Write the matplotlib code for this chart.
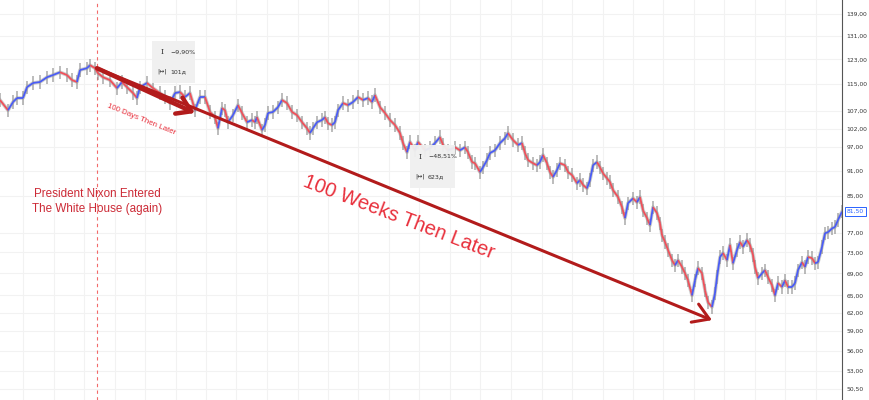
import numpy as np
import matplotlib
matplotlib.use("Agg")
import matplotlib.pyplot as plt
from matplotlib.collections import LineCollection
from matplotlib.patches import Rectangle
import matplotlib.transforms as mtransforms

# days counted from the inauguration (day 0) and the traced price
days = [-97, -89, -84, -80, -74, -70, -64, -57, -50, -44, -37, -30, -25, -20, -17, -10, -7, -2,
        1, 6, 13, 20, 25, 30, 36, 40, 43, 50, 56, 63, 68, 73, 78, 83, 88, 93, 98, 103,
        108, 113, 118, 121, 125, 128, 131, 136, 141, 145, 150, 155, 158, 160, 165, 168, 171,
        176, 181, 185, 190, 195, 200, 205, 210, 213, 216, 220, 225, 228, 231, 235, 238, 241,
        246, 251, 256, 261, 266, 271, 275, 278, 283, 288, 293, 298, 303, 306, 310, 313, 318,
        321, 328, 333, 338, 343, 346, 351, 358, 363, 368, 371, 375, 378, 383, 386, 390, 393,
        398, 403, 408, 411, 416, 421, 425, 428, 431, 436, 440, 443, 446, 450, 453, 456, 460,
        463, 468, 471, 475, 480, 483, 486, 490, 493, 496, 500, 503, 506, 510, 513, 516, 521,
        525, 528, 531, 536, 540, 543, 546, 550, 553, 556, 560, 563, 565, 568, 571, 575, 578,
        581, 585, 588, 591, 595, 598, 601, 605, 608, 611, 615, 618, 620, 623, 626, 630, 633,
        636, 640, 643, 646, 650, 653, 656, 658, 661, 665, 668, 671, 675, 678, 681, 685, 688,
        691, 695, 698, 701, 705, 708, 711, 715, 718, 721, 725, 728, 731, 735, 738, 741, 745]
price = [110.2, 107.2, 109.6, 110.8, 110.8, 114.1, 115.4, 115.7, 117.2, 117.9, 118.8, 117.9, 116.3,
         115.7, 119.5, 120.1, 121.1, 120.1, 118.5, 117.2, 116.3, 113.8, 115.7, 114.1, 112.3, 110.8,
         114.1, 115.4, 113.8, 112.3, 111.1, 109.3, 112.3, 112.6, 111.1, 112.3, 107.2, 111.1, 111.1,
         106.7, 105.2, 102.1, 107.8, 107.2, 103.8, 105.8, 108.7, 106.4, 103.8, 104.4, 103.8, 105.2,
         101.6, 103.0, 106.4, 106.7, 108.1, 110.2, 109.3, 106.7, 105.8, 103.8, 102.1, 100.8, 102.1,
         103.8, 104.4, 105.2, 103.5, 103.0, 103.8, 107.2, 109.3, 108.7, 109.6, 111.1, 110.2, 110.8,
         109.6, 111.7, 108.1, 106.4, 104.4, 103.0, 100.8, 98.1, 95.7, 98.4, 96.2, 98.4, 96.2, 96.8,
         98.1, 99.7, 97.6, 96.2, 97.0, 96.2, 97.0, 95.7, 93.2, 92.9, 90.7, 91.9, 93.7, 95.5, 96.2,
         98.1, 99.4, 100.8, 98.9, 97.6, 98.1, 95.5, 93.7, 92.9, 92.4, 93.2, 95.0, 92.9, 90.7, 89.5,
         91.2, 92.9, 92.4, 90.7, 90.0, 88.0, 88.8, 87.6, 86.8, 88.8, 92.4, 93.2, 91.9, 90.4, 89.2,
         88.3, 86.4, 84.8, 82.5, 80.1, 83.4, 84.5, 83.6, 84.8, 81.8, 80.1, 78.6, 82.5, 81.2, 79.0,
         76.5, 75.1, 73.5, 71.5, 70.5, 71.5, 70.2, 69.0, 67.7, 65.0, 67.7, 70.0, 69.0, 65.9, 63.8,
         63.0, 65.4, 68.3, 72.1, 72.9, 71.5, 74.5, 70.9, 73.5, 75.1, 74.1, 75.5, 74.5, 72.5, 70.2,
         68.1, 69.0, 69.6, 68.3, 66.8, 65.0, 67.2, 66.5, 67.7, 66.5, 66.5, 67.2, 69.6, 71.1, 70.2,
         72.1, 71.9, 70.9, 71.1, 74.1, 76.9, 77.1, 77.9, 78.2, 79.7, 81.5]

ytick_vals = [139, 131, 123, 115, 107, 102, 97, 91, 85, 77, 73, 69, 65, 62, 59, 56, 53, 50.5]
last_price = 81.50

start_day, start_price = 0, 120.1
days_end, days_price = 98, 106.4      # 100 days later, -9.90%
weeks_end, weeks_price = 615, 60.8    # 623 days later, -48.51%

up_col = "#4a5cf5"
down_col = "#f0505a"
arrow_col = "#b21b1b"
text_red = "#e8303c"

fig = plt.figure(figsize=(8.7, 4), dpi=100)
ax = fig.add_axes([0, 0, 842 / 870, 1])
ax.set_yscale("log")
ax.set_xlim(-97, 745)
ax.set_ylim(49.0, 144.4)

# grid
ax.set_yticks(ytick_vals)
ax.set_yticks([], minor=True)
ax.set_yticklabels([("%.2f" % v).replace(".", ",") for v in ytick_vals])
ax.set_xticks(np.arange(-74, 745, 30.5))
ax.tick_params(axis="x", length=0, labelbottom=False)
ax.tick_params(axis="y", which="both", length=0, labelsize=4.3, labelcolor="#333333",
               left=False, right=False, labelleft=False, labelright=True, pad=3)
ax.grid(True, color="#f2f2f2", lw=0.8)
ax.set_axisbelow(True)
for s in ["top", "left", "bottom"]:
    ax.spines[s].set_visible(False)
ax.spines["right"].set_color("#555555")
ax.spines["right"].set_linewidth(0.8)

# price path: gray wick band, then up/down coloured bodies
p = np.array(price)
ax.vlines(days, p * 0.982, p * 1.018, color="#8f8f8f", lw=1.2, alpha=0.7, zorder=2)
ax.plot(days, price, color="#9a9a9a", lw=2.6, alpha=0.5, zorder=2)
pts = np.column_stack([days, price])
segs = np.stack([pts[:-1], pts[1:]], axis=1)
cols = [up_col if price[i + 1] >= price[i] else down_col for i in range(len(price) - 1)]
ax.add_collection(LineCollection(segs, colors=cols, linewidths=1.3, zorder=3))

# inauguration marker
ax.axvline(start_day, color="#f26b6b", lw=0.8, ls=(0, (3, 3)), zorder=1)

# arrows
ax.annotate("", xy=(weeks_end, weeks_price), xytext=(start_day, start_price),
            arrowprops=dict(arrowstyle="->,head_length=0.8,head_width=0.5", color=arrow_col,
                            lw=2.2, shrinkA=0, shrinkB=0, mutation_scale=14), zorder=5)
ax.annotate("", xy=(days_end, days_price), xytext=(start_day, start_price),
            arrowprops=dict(arrowstyle="->,head_length=0.7,head_width=0.45", color=arrow_col,
                            lw=3.2, shrinkA=0, shrinkB=0, mutation_scale=14), zorder=5)

ax.text(44, 104.7, "100 Days Then Later", color=text_red, fontsize=5.7, rotation=-22,
        ha="center", va="center", rotation_mode="anchor", family=["Liberation Sans", "DejaVu Sans"])
ax.text(302, 80.2, "100 Weeks Then Later", color=text_red, fontsize=14.5, rotation=-21,
        ha="center", va="center", rotation_mode="anchor",
        family=["Liberation Sans Narrow", "Liberation Sans", "DejaVu Sans"])
ax.text(start_day, 83.8, "President Nixon Entered\nThe White House (again)", color="#cc2a36",
        fontsize=8.4, ha="center", va="center", linespacing=1.25,
        family=["Liberation Sans", "DejaVu Sans"])

# measurement boxes
boxes = [((55, 98), (129.2, 115.4), "\u22129,90%", "101\u0434"),
         ((313, 358), (97.6, 86.8), "\u221248,51%", "623\u0434")]
for (x0, x1), (ytop, ybot), pct, ndays in boxes:
    ax.add_patch(Rectangle((x0, ybot), x1 - x0, ytop - ybot, fc="#f0f0f0", ec="none",
                           alpha=0.95, zorder=6))
    r1 = ytop * (ybot / ytop) ** 0.27
    r2 = ytop * (ybot / ytop) ** 0.73
    ax.text(x0 + 10, r1, "I", fontsize=5.5, family="DejaVu Serif", ha="center", va="center",
            color="#333333", zorder=7)
    ax.text(x0 + 10, r2, "|\u2194|", fontsize=4.5, ha="center", va="center", color="#333333",
            zorder=7)
    ax.text(x0 + 18, r1, pct, fontsize=4.5, ha="left", va="center", color="#333333", zorder=7)
    ax.text(x0 + 18, r2, ndays, fontsize=4.5, ha="left", va="center", color="#333333", zorder=7)

# last price tag on the scale
trans = mtransforms.blended_transform_factory(ax.transAxes, ax.transData)
ax.text(1.006, last_price, ("%.2f" % last_price).replace(".", ","), transform=trans,
        fontsize=4.3, color="#2962ff", ha="left", va="center", clip_on=False,
        bbox=dict(boxstyle="square,pad=0.35", fc="white", ec="#2962ff", lw=0.7))

fig.savefig("out.png", dpi=100)
